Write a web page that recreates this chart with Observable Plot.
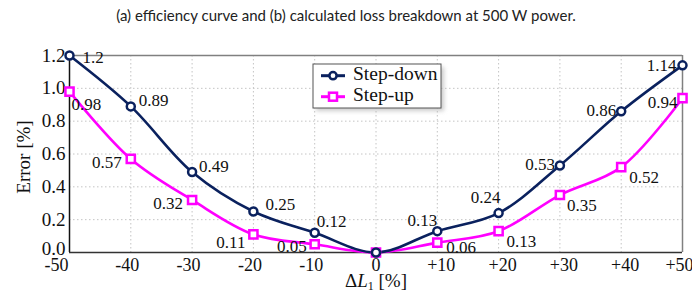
<!DOCTYPE html>
<html>
<head>
<meta charset="utf-8">
<script src="https://cdn.jsdelivr.net/npm/d3@7"></script>
<script src="https://cdn.jsdelivr.net/npm/@observablehq/plot@0.6"></script>
<style>
  html, body { margin: 0; padding: 0; background: #fff; }
  #title { height: 30px; line-height: 30px; text-align: center; font-family: Lato, "Open Sans", sans-serif; font-size: 15px; color: #222; width: 692px; }
  #chart svg { display: block; }
</style>
</head>
<body>
<div id="title">(a) efficiency curve and (b) calculated loss breakdown at 500 W power.</div>
<div id="chart"></div>
<script>
// ---- data ----
const deltaL = [-50, -40, -30, -20, -10, 0, 10, 20, 30, 40, 50];
const stepDown = [1.2, 0.89, 0.49, 0.25, 0.12, 0, 0.13, 0.24, 0.53, 0.86, 1.14];
const stepUp = [0.98, 0.57, 0.32, 0.11, 0.05, 0, 0.06, 0.13, 0.35, 0.52, 0.94];
const stepDownLabels = ["1.2", "0.89", "0.49", "0.25", "0.12", "", "0.13", "0.24", "0.53", "0.86", "1.14"];
const stepUpLabels = ["0.98", "0.57", "0.32", "0.11", "0.05", "", "0.06", "0.13", "0.35", "0.52", "0.94"];
const xTicks = [-50, -40, -30, -20, -10, 0, 10, 20, 30, 40, 50];
const yTicks = [0, 0.2, 0.4, 0.6, 0.8, 1.0, 1.2];
const seriesNames = ["Step-down", "Step-up"];

// ---- layout (label placement: [dx, dy, anchor]) ----
const downPlace = [[13,2,"start"],[8,-6,"start"],[7,-6,"start"],[12,-7,"start"],[2,-11,"start"],null,
                   [0,-11,"end"],[-13,-16,"middle"],[-5,-1,"end"],[-5,-1,"end"],[-6,0,"end"]];
const upPlace = [[2,13,"start"],[-9,4,"end"],[-9,4,"end"],[-8,8,"end"],[-8,2,"end"],null,
                 [9,5,"start"],[8,10,"start"],[7,11,"start"],[8,10,"start"],[-5,4,"end"]];

const NAVY = "#0a215e";
const MAG = "#ff00ff";
const serif = "'Liberation Serif', 'Times New Roman', serif";

const downData = deltaL.map((x, i) => ({x, y: stepDown[i], label: stepDownLabels[i]}));
const upData = deltaL.map((x, i) => ({x, y: stepUp[i], label: stepUpLabels[i]}));

const labelMarks = [];
[[downData, downPlace], [upData, upPlace]].forEach(([data, place]) => {
  data.forEach((d, i) => {
    if (!place[i] || !d.label) return;
    const [dx, dy, anchor] = place[i];
    labelMarks.push(Plot.text([d], {x: "x", y: "y", text: "label", dx, dy, textAnchor: anchor,
      fontSize: 17, fontFamily: serif, fill: "#111"}));
  });
});

const fmtX = d => d > 0 ? "+" + d : String(d);
const axisCommon = {tickFormat: fmtX, tickSize: 0, tickPadding: 6, label: null, fontSize: 18, fontFamily: serif};

const plot = Plot.plot({
  width: 692,
  height: 263,
  marginTop: 25,
  marginBottom: 41,
  marginLeft: 69,
  marginRight: 10,
  style: {fontFamily: serif, fontSize: "18px", color: "#111", background: "#fff"},
  x: {domain: [-50, 50]},
  y: {domain: [0, 1.2]},
  marks: [
    Plot.gridX(xTicks.filter(d => d !== -50 && d !== 50), {stroke: "#c4c4c4", strokeOpacity: 1, strokeDasharray: "1.5,2.5"}),
    Plot.gridY(yTicks.filter(d => d !== 0 && d !== 1.2), {stroke: "#c4c4c4", strokeOpacity: 1, strokeDasharray: "1.5,2.5"}),
    Plot.ruleY([1.2], {stroke: "#808080", strokeWidth: 1.5}),
    Plot.ruleX([50], {stroke: "#808080", strokeWidth: 1.5}),
    Plot.ruleX([-50], {stroke: "#111", strokeWidth: 1.5}),
    Plot.ruleY([0], {stroke: "#333", strokeWidth: 1.5}),
    Plot.axisX({...axisCommon, ticks: [-50], textAnchor: "end", dx: -1}),
    Plot.axisX({...axisCommon, ticks: xTicks.filter(d => d < 0 && d > -50), dx: -3.5}),
    Plot.axisX({...axisCommon, ticks: [0]}),
    Plot.axisX({...axisCommon, ticks: xTicks.filter(d => d > 0 && d < 50), dx: 4}),
    Plot.axisX({...axisCommon, ticks: [50], dx: -3}),
    Plot.axisY({ticks: yTicks.filter(d => d > 0), tickFormat: d3.format(".1f"), tickSize: 0, tickPadding: 4, label: null, fontSize: 19, fontFamily: serif}),
    Plot.axisY({ticks: [0], tickFormat: d3.format(".1f"), tickSize: 0, tickPadding: 4, label: null, fontSize: 19, fontFamily: serif, dy: -4}),
    Plot.line(upData, {x: "x", y: "y", stroke: MAG, strokeWidth: 2.6, curve: "catmull-rom"}),
    Plot.line(downData, {x: "x", y: "y", stroke: NAVY, strokeWidth: 2.6, curve: "catmull-rom"}),
    Plot.dot(upData, {x: "x", y: "y", symbol: "square", r: 4.6, fill: "#fff", stroke: MAG, strokeWidth: 2.5}),
    Plot.dot(downData, {x: "x", y: "y", symbol: "circle", r: 4, fill: "#fff", stroke: NAVY, strokeWidth: 2.5}),
    ...labelMarks
  ]
});

document.getElementById("chart").appendChild(plot);

// axis titles and legend
const svg = d3.select(plot);

svg.append("text")
  .attr("transform", "translate(26,127) rotate(-90)")
  .attr("text-anchor", "middle").attr("dominant-baseline", "middle")
  .attr("font-family", serif).attr("font-size", 19).attr("fill", "#111")
  .text("Error [%]");

const xl = svg.append("text")
  .attr("x", 376).attr("y", 257)
  .attr("text-anchor", "middle")
  .attr("font-family", serif).attr("font-size", 19).attr("fill", "#111");
xl.append("tspan").text("Δ");
xl.append("tspan").attr("font-style", "italic").text("L");
xl.append("tspan").attr("font-size", 12).attr("dy", 3).text("1");
xl.append("tspan").attr("dy", -3).text(" [%]");

const lg = svg.append("g").attr("text-anchor", "start");
lg.append("rect").attr("x", 316).attr("y", 37).attr("width", 128).attr("height", 44)
  .attr("fill", "#aaa").attr("opacity", 0.6).style("filter", "blur(2px)");
lg.append("rect").attr("x", 313).attr("y", 34).attr("width", 128).attr("height", 44)
  .attr("fill", "#fff").attr("stroke", "#555").attr("stroke-width", 1);
const entries = [
  {name: seriesNames[0], color: NAVY, sym: "circle", y: 45.7},
  {name: seriesNames[1], color: MAG, sym: "square", y: 66.7}
];
entries.forEach(e => {
  lg.append("line").attr("x1", 321).attr("x2", 345).attr("y1", e.y).attr("y2", e.y)
    .attr("stroke", e.color).attr("stroke-width", 3);
  if (e.sym === "circle") {
    lg.append("circle").attr("cx", 333).attr("cy", e.y).attr("r", 3.6)
      .attr("fill", "#fff").attr("stroke", e.color).attr("stroke-width", 2.5);
  } else {
    lg.append("rect").attr("x", 329).attr("y", e.y - 4).attr("width", 8).attr("height", 8)
      .attr("fill", "#fff").attr("stroke", e.color).attr("stroke-width", 2.5);
  }
  lg.append("text").attr("x", 353).attr("y", e.y).attr("dominant-baseline", "middle")
    .attr("text-anchor", "start")
    .attr("font-family", serif).attr("font-size", 19.5).attr("fill", "#111").text(e.name);
});
</script>
</body>
</html>
